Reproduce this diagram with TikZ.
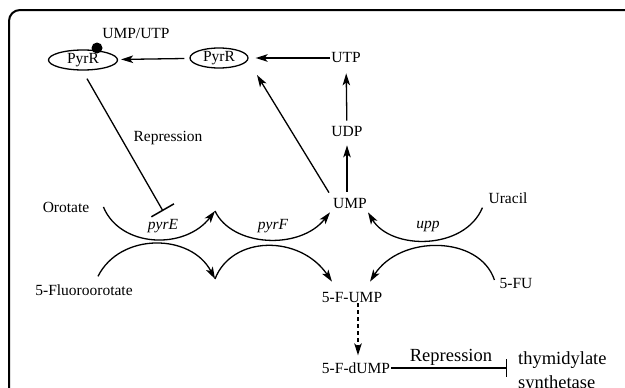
\documentclass[tikz,border=0pt]{standalone}
\usepackage{fontspec}
\setmainfont{Liberation Serif}
\usetikzlibrary{arrows.meta,shapes.geometric}

\begin{document}
\begin{tikzpicture}[x=1pt,y=-1pt,
	lbl/.style={inner sep=1pt,font=\fontsize{15.5}{18}\selectfont},
	biglbl/.style={inner sep=0pt,font=\fontsize{18.5}{24}\selectfont},
	prot/.style={ellipse,draw,line width=1.3pt,inner sep=0pt,minimum height=20pt,font=\fontsize{15.5}{18}\selectfont},
	arr/.style={line width=1.3pt,-{Stealth[length=12pt,width=7.5pt,inset=3pt]}},
	rep/.style={line width=1.3pt,-{Bar[width=#1,line width=1.5pt]}}]
		%%%%% START %%%%%
		\useasboundingbox (0,0) rectangle (625,388);
		\draw[line width=2pt,rounded corners=11pt] (630,10) -- (9,10) -- (9,392);
		
		\node[prot,minimum width=69pt] (pyrrA) at (83,60) {PyrR};
		\node[prot,minimum width=58pt] (pyrrB) at (219,58) {PyrR};
		\fill (97,48) circle (5.5);
		\node[lbl] (umputp) at (136,33) {UMP/UTP};
		
		\node[lbl] (utp) at (346,58) {UTP};
		\node[lbl] (udp) at (347,132) {UDP};
		\node[lbl] (ump) at (350,203) {UMP};
		\node[lbl] (oro) at (66,207) {Orotate};
		\node[lbl] (fluoro) at (84,290) {5-Fluoroorotate};
		\node[lbl] (uracil) at (508,198) {Uracil};
		\node[lbl] (fu) at (516,283) {5-FU};
		\node[lbl] (fump) at (352,297) {5-F-UMP};
		\node[lbl] (fdump) at (356,368) {5-F-dUMP};
		\node[biglbl,anchor=north west,align=left] (thym) at (518,351) {thymidylate\\synthetase};
		
		\node[lbl] (lpyrE) at (163,226) {\itshape pyrE};
		\node[lbl] (lpyrF) at (273,226) {\itshape pyrF};
		\node[lbl] (lupp) at (428,226) {\itshape upp};
		\node[lbl] (lrepA) at (168,138) {Repression};
		\node[biglbl] (lrepB) at (451,357) {Repression};
		
		\coordinate (jE) at (215,211);
		\coordinate (jL) at (215,279);
		\coordinate (repE) at (163,211);
		\coordinate (tsE) at (507,368);
		
		% PyrR and the nucleotides
		\draw[arr,shorten <=5pt,shorten >=3pt] (pyrrB) -- (pyrrA);
		\draw[arr,shorten >=7pt] (utp.west) -- (pyrrB.east);
		\draw[arr,shorten <=5pt,shorten >=9pt] (udp) -- (utp);
		\draw[arr,shorten <=5pt,shorten >=7pt] (udp.south |- ump.north) -- (udp.south);
		\draw[arr] ([shift={(-3,-4)}]ump.north west) -- ([shift={(38,17)}]pyrrB.center);
		\draw[rep=26pt] ([shift={(4,8)}]pyrrA.south) -- (repE);
		
		% upper arcs
		\draw[arr] ([shift={(13,0)}]oro.east) .. controls +(17,41) and +(-30,39) .. (jE);
		\draw[arr] (jE) .. controls +(17,36) and +(-30,38) .. ([shift={(-2,3)}]ump.south west);
		\draw[arr] ([shift={(-5,3)}]uracil.south west) .. controls +(-18,43) and +(23,38) .. ([shift={(0,3)}]ump.south east);
		
		% lower arcs
		\draw[arr] ([shift={(14,-7)}]fluoro.north) .. controls +(22,-44) and +(-24,-46) .. (jL);
		\draw[arr] (jL) .. controls +(17,-44) and +(-32,-47) .. ([shift={(-20,-9)}]fump.north);
		\draw[arr] ([shift={(-4,-3)}]fu.west) .. controls +(-15,-45) and +(30,-47) .. ([shift={(18,-9)}]fump.north);
		
		\draw[arr,dash pattern=on 4pt off 3pt,shorten >=6pt] ([shift={(6,0)}]fump.south) -- ([shift={(2,0)}]fdump.north);
		\draw[rep=18pt] (fdump.east) -- (tsE);
		%%%%% END %%%%%
	\end{tikzpicture}
\end{document}
